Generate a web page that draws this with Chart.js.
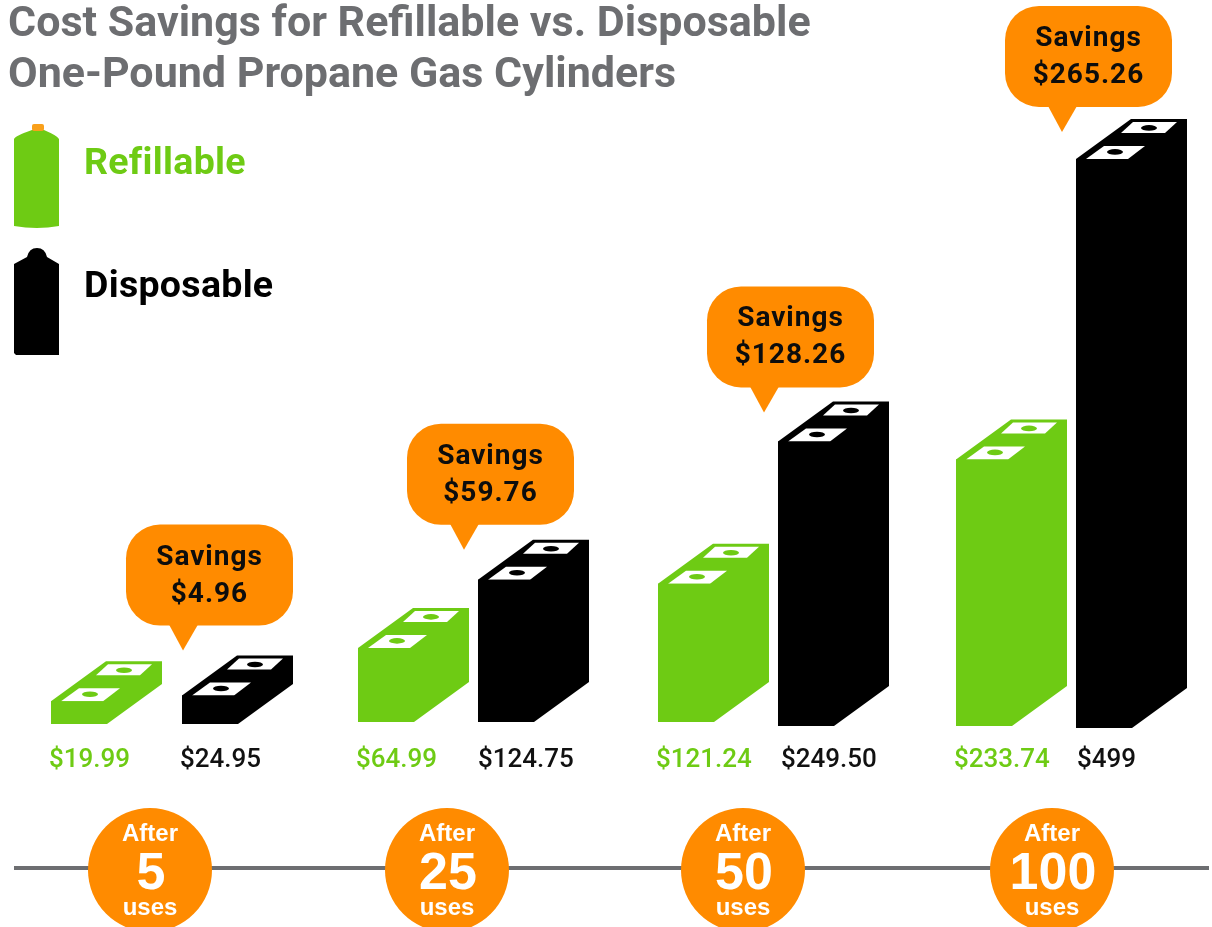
<!DOCTYPE html>
<html>
<head>
<meta charset="utf-8">
<title>Cost Savings</title>
<script src="https://cdn.jsdelivr.net/npm/chart.js@4"></script>
<style>
  html, body { margin: 0; padding: 0; background: #fff; overflow: hidden; }
  #box { width: 1212px; height: 927px; }
</style>
</head>
<body>
<div id="box"><canvas id="cylinders_canvas"></canvas></div>
<script>
var titleLines = ['Cost Savings for Refillable vs. Disposable', 'One-Pound Propane Gas Cylinders'];
var uses = ['5', '25', '50', '100'];
var seriesNames = ['Refillable', 'Disposable'];
var refillable = [19.99, 64.99, 121.24, 233.74];
var disposable = [24.95, 124.75, 249.50, 499];
var refillableText = ['$19.99', '$64.99', '$121.24', '$233.74'];
var disposableText = ['$24.95', '$124.75', '$249.50', '$499'];
var savings = ['$4.96', '$59.76', '$128.26', '$265.26'];

var GREEN = '#6ecb14';
var BLACK = '#000000';
var ORANGE = '#ff8b00';
var GREY = '#6d6e71';

// the original is hand laid out, so groups are not quite evenly spaced
var nudgeX = [[-19, -12, -12, -14], [-8, -12, -12, -14]];
var nudgeY = [[-2, -4, -4, 0], [-2, -4, 0, 2]];
var tipLeft = [1, -14, -14, -14];
var tipUp = [45, 30, 29, 27];
var labelShift = [[-2, -2, -2, -2], [-2, 0, 3, 1]];
var circleX = [150, 447, 743, 1052];
var depthX = 55, depthY = 40;

function poly(ctx, pts, color) {
    ctx.fillStyle = color;
    ctx.beginPath();
    ctx.moveTo(pts[0][0], pts[0][1]);
    for (var i = 1; i < pts.length; i++) {
        ctx.lineTo(pts[i][0], pts[i][1]);
    }
    ctx.closePath();
    ctx.fill();
}

function note(ctx, x, y, rx, ry, color) {
    ctx.fillStyle = color;
    ctx.beginPath();
    ctx.ellipse(x, y, rx, ry, 0, 0, Math.PI * 2);
    ctx.fill();
}

function drawStack(ctx, el, color) {
    var x0 = el.x - el.width / 2;
    var x1 = el.x + el.width / 2;
    var t = el.y;
    poly(ctx, [[x0, t], [x0 + depthX, t - depthY], [x1 + depthX, t - depthY],
        [x1 + depthX, el.base - depthY], [x1, el.base], [x0, el.base]], color);
    // two bills on the top face
    poly(ctx, [[x0 + 10, t], [x0 + 28, t - 13], [x0 + 69, t - 13], [x0 + 52, t]], '#fff');
    note(ctx, x0 + 39, t - 7, 8, 2.8, color);
    poly(ctx, [[x0 + 45, t - 26], [x0 + 57, t - 37], [x0 + 101, t - 37], [x0 + 89, t - 26]], '#fff');
    note(ctx, x0 + 73, t - 31, 8, 2.8, color);
}

function drawBubble(ctx, tipX, tipY, line2) {
    var x = tipX - 57, y = tipY - 126, w = 167, h = 101, r = 34;
    ctx.fillStyle = ORANGE;
    ctx.beginPath();
    ctx.roundRect(x, y, w, h, r);
    ctx.fill();
    poly(ctx, [[tipX - 14, y + h - 1], [tipX + 15, y + h - 1], [tipX, tipY]], ORANGE);
    ctx.fillStyle = '#0d0d0d';
    ctx.font = 'bold 28px Roboto';
    ctx.letterSpacing = '1px';
    ctx.textAlign = 'center';
    ctx.textBaseline = 'middle';
    ctx.fillText('Savings', x + w / 2, y + 33);
    ctx.fillText(line2, x + w / 2, y + 70);
    ctx.letterSpacing = '0px';
}

function drawBottle(ctx, top, green) {
    var l = 14, r = 59;
    ctx.fillStyle = green ? GREEN : BLACK;
    ctx.beginPath();
    if (green) {
        var b = 229;
        ctx.moveTo(l, top + 15);
        ctx.quadraticCurveTo(l + 1, top + 12, 32, top + 6);
        ctx.lineTo(44, top + 6);
        ctx.quadraticCurveTo(r - 1, top + 12, r, top + 15);
        ctx.lineTo(r, b - 3);
        ctx.quadraticCurveTo(37, b + 1, l, b - 3);
    } else {
        var c = 355;
        ctx.moveTo(l, top + 16);
        ctx.lineTo(27, top + 9);
        ctx.quadraticCurveTo(29, top, 37, top);
        ctx.quadraticCurveTo(45, top, 47, top + 9);
        ctx.lineTo(r, top + 16);
        ctx.lineTo(r, c);
        ctx.lineTo(l + 2, c);
        ctx.lineTo(l, c - 2);
    }
    ctx.closePath();
    ctx.fill();
    if (green) {
        ctx.fillStyle = '#f9a01b';
        ctx.beginPath();
        ctx.roundRect(32, top, 12, 7, 2);
        ctx.fill();
    }
}

var handLayout = {
    id: 'handLayout',
    afterDatasetsUpdate: function(chart) {
        for (var d = 0; d < 2; d++) {
            chart.getDatasetMeta(d).data.forEach(function(el, i) {
                el.x += nudgeX[d][i];
                el.y += nudgeY[d][i];
                el.base += nudgeY[d][i];
            });
        }
    },
    beforeDatasetsDraw: function(chart) {
        var ctx = chart.ctx;
        ctx.save();
        chart.getDatasetMeta(0).data.forEach(function(el) { drawStack(ctx, el, GREEN); });
        chart.getDatasetMeta(1).data.forEach(function(el) { drawStack(ctx, el, BLACK); });
        ctx.restore();
    },
    afterDraw: function(chart) {
        var ctx = chart.ctx;
        var green = chart.getDatasetMeta(0).data;
        var black = chart.getDatasetMeta(1).data;
        ctx.save();

        // legend
        drawBottle(ctx, 124, true);
        drawBottle(ctx, 248, false);
        ctx.font = 'bold 37.5px Roboto';
        ctx.letterSpacing = '0.3px';
        ctx.textAlign = 'left';
        ctx.textBaseline = 'middle';
        ctx.fillStyle = GREEN;
        ctx.fillText(seriesNames[0], 84, 165);
        ctx.fillStyle = BLACK;
        ctx.fillText(seriesNames[1], 84, 288);
        ctx.letterSpacing = '0px';

        // price labels and savings bubbles
        for (var i = 0; i < uses.length; i++) {
            ctx.font = '500 26px Roboto';
            ctx.textAlign = 'left';
            ctx.textBaseline = 'middle';
            ctx.fillStyle = GREEN;
            ctx.fillText(refillableText[i], green[i].x - green[i].width / 2 + labelShift[0][i], 760);
            ctx.fillStyle = '#111';
            ctx.fillText(disposableText[i], black[i].x - black[i].width / 2 + labelShift[1][i], 760);
            drawBubble(ctx, black[i].x - black[i].width / 2 + tipLeft[i], black[i].y - tipUp[i], savings[i]);
        }

        // timeline
        ctx.fillStyle = GREY;
        ctx.fillRect(14, 866, 1195, 4);
        for (var j = 0; j < uses.length; j++) {
            var cx = circleX[j];
            ctx.fillStyle = ORANGE;
            ctx.beginPath();
            ctx.arc(cx, 870, 62, 0, Math.PI * 2);
            ctx.fill();
            ctx.fillStyle = '#fff';
            ctx.textAlign = 'center';
            ctx.textBaseline = 'middle';
            ctx.font = 'bold 24px "Liberation Sans"';
            ctx.fillText('After', cx, 834);
            ctx.fillText('uses', cx, 908);
            ctx.font = 'bold 52px "Liberation Sans"';
            ctx.fillText(uses[j], cx + 1, 875);
        }
        ctx.restore();
    }
};

var chartdata = {
    labels: uses.map(function(u) { return 'After ' + u + ' uses'; }),
    datasets: [
        { label: seriesNames[0], data: refillable, backgroundColor: GREEN, clip: false },
        { label: seriesNames[1], data: disposable, backgroundColor: BLACK, clip: false }
    ]
};

var options = {
    responsive: true,
    maintainAspectRatio: false,
    animation: false,
    layout: { padding: { left: 8, right: 4, top: 0, bottom: 201 } },
    categoryPercentage: 0.8,
    barPercentage: 0.4667,
    plugins: {
        legend: { display: false },
        tooltip: { enabled: false },
        title: {
            display: true,
            text: titleLines,
            align: 'start',
            color: GREY,
            font: { family: 'Roboto', weight: 'bold', size: 43, lineHeight: 1.186 },
            padding: { top: 0, bottom: 7 }
        }
    },
    scales: {
        x: { display: false },
        y: { display: false, min: 0, max: 541 }
    }
};

new Chart(document.getElementById('cylinders_canvas'), {
    type: 'bar',
    data: chartdata,
    options: options,
    plugins: [handLayout]
});
</script>
</body>
</html>
